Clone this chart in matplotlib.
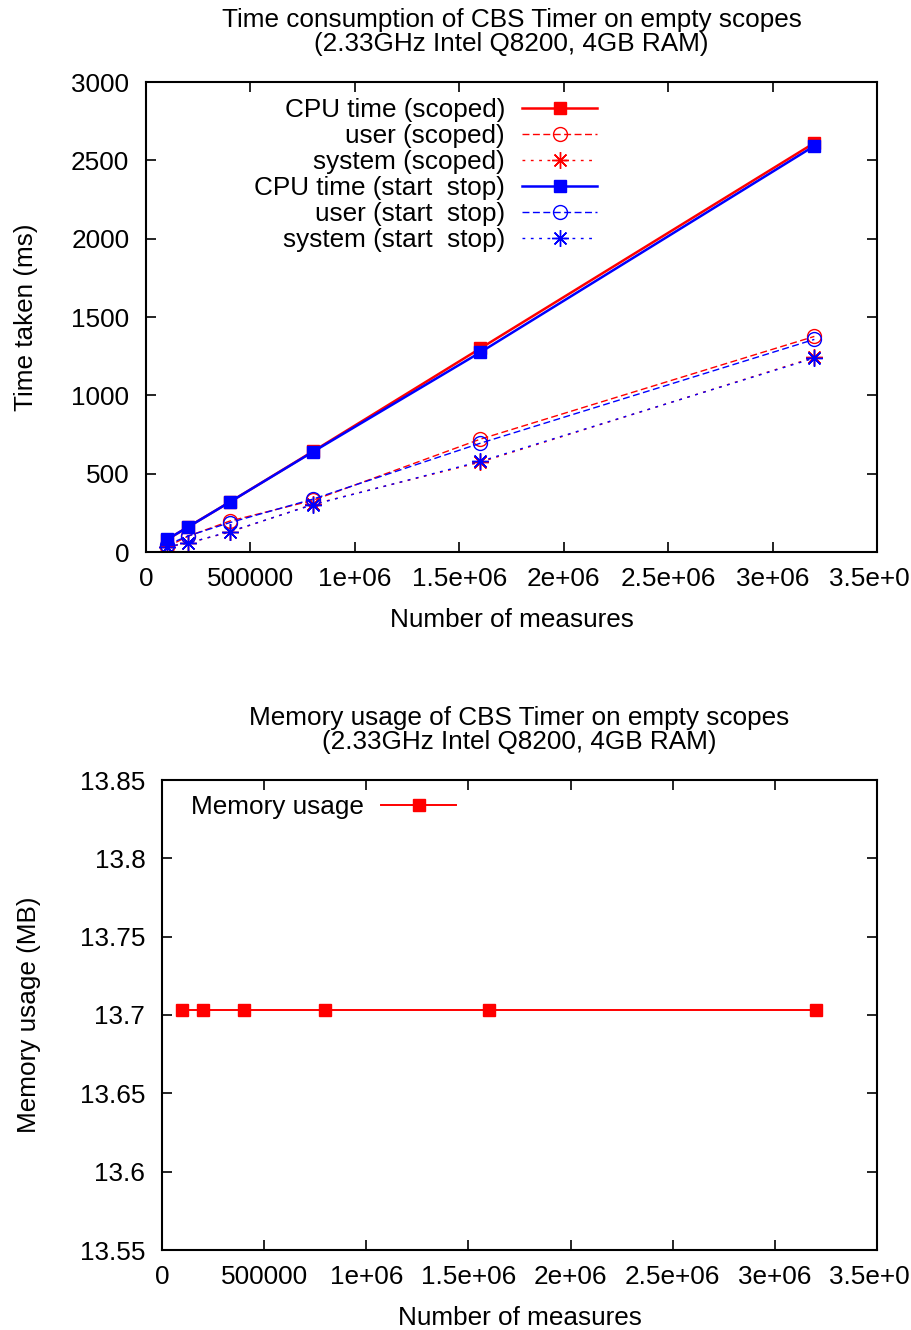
import matplotlib
matplotlib.use('Agg')
import matplotlib.pyplot as plt
from matplotlib.ticker import FormatStrFormatter, MultipleLocator

plt.rcParams['font.family'] = ['Liberation Sans', 'DejaVu Sans']

# Data
measures = [100000, 200000, 400000, 800000, 1600000, 3200000]

cpu_scoped = [78, 159, 318, 643, 1299, 2611]
user_scoped = [32, 100, 197, 330, 720, 1376]
system_scoped = [32, 57, 127, 305, 573, 1242]

cpu_startstop = [80, 158, 318, 640, 1274, 2592]
user_startstop = [45, 102, 187, 338, 694, 1357]
system_startstop = [35, 56, 130, 302, 578, 1238]

memory_mb = [13.703, 13.703, 13.703, 13.703, 13.703, 13.703]

RED = '#ff0000'
BLUE = '#0000ff'
ASTERISK = (8, 2, 0)
FS = 18.8

fig = plt.figure(figsize=(9.12, 13.3), dpi=100)


def style_axes(ax):
    for s in ax.spines.values():
        s.set_linewidth(1.5)
    ax.tick_params(direction='in', length=7, width=1.2, top=True, right=True,
                   labelsize=FS, pad=12)
    ax.tick_params(axis='x', pad=10.5)
    ax.xaxis.set_major_locator(MultipleLocator(500000))
    ax.xaxis.set_major_formatter(FormatStrFormatter('%g'))


def add_legend(ax, right_px, top_px, **kw):
    ax.legend(loc='upper right', bbox_to_anchor=(right_px / 912, 1 - top_px / 1330),
              bbox_transform=fig.transFigure, frameon=False, markerfirst=False,
              fontsize=FS, handlelength=2.87, handletextpad=0.65,
              borderpad=0, borderaxespad=0, **kw)


# ---- top chart: time consumption
ax1 = fig.add_axes([146 / 912, 1 - 552 / 1330, (877 - 146) / 912, (552 - 82) / 1330])
ax1.plot(measures, cpu_scoped, color=RED, lw=1.8, marker='s', ms=9,
         label='CPU time (scoped)')
ax1.plot(measures, user_scoped, color=RED, lw=1, ls=(0, (5, 2.5)), marker='o', ms=10,
         mfc='none', mew=1, label='user (scoped)')
ax1.plot(measures, system_scoped, color=RED, lw=1, ls=(0, (2, 4)), marker=ASTERISK,
         ms=12, mew=1, label='system (scoped)')
ax1.plot(measures, cpu_startstop, color=BLUE, lw=1.8, marker='s', ms=9,
         label='CPU time (start  stop)')
ax1.plot(measures, user_startstop, color=BLUE, lw=1, ls=(0, (5, 2.5)), marker='o', ms=10,
         mfc='none', mew=1, label='user (start  stop)')
ax1.plot(measures, system_startstop, color=BLUE, lw=1, ls=(0, (2, 4)), marker=ASTERISK,
         ms=12, mew=1, label='system (start  stop)')
ax1.set_xlim(0, 3500000)
ax1.set_ylim(0, 3000)
ax1.yaxis.set_major_locator(MultipleLocator(500))
style_axes(ax1)
ax1.set_xlabel('Number of measures', fontsize=FS, labelpad=12.5)
ax1.set_ylabel('Time taken (ms)', fontsize=FS, labelpad=24)
ax1.set_title('Time consumption of CBS Timer on empty scopes\n(2.33GHz Intel Q8200, 4GB RAM)',
              fontsize=FS, linespacing=1.0, pad=22)
add_legend(ax1, 597, 98, labelspacing=0.08)

# ---- bottom chart: memory usage
ax2 = fig.add_axes([162 / 912, 1 - 1250 / 1330, (877 - 162) / 912, (1250 - 780) / 1330])
ax2.plot(measures, memory_mb, color=RED, lw=1.4, marker='s', ms=9, label='Memory usage')
ax2.set_xlim(0, 3500000)
ax2.set_ylim(13.55, 13.85)
ax2.yaxis.set_major_locator(MultipleLocator(0.05))
ax2.yaxis.set_major_formatter(FormatStrFormatter('%g'))
style_axes(ax2)
ax2.set_xlabel('Number of measures', fontsize=FS, labelpad=12.5)
ax2.set_ylabel('Memory usage (MB)', fontsize=FS, labelpad=28)
ax2.set_title('Memory usage of CBS Timer on empty scopes\n(2.33GHz Intel Q8200, 4GB RAM)',
              fontsize=FS, linespacing=1.0, pad=22)
add_legend(ax2, 456, 795)

fig.savefig('out.png', dpi=100)
